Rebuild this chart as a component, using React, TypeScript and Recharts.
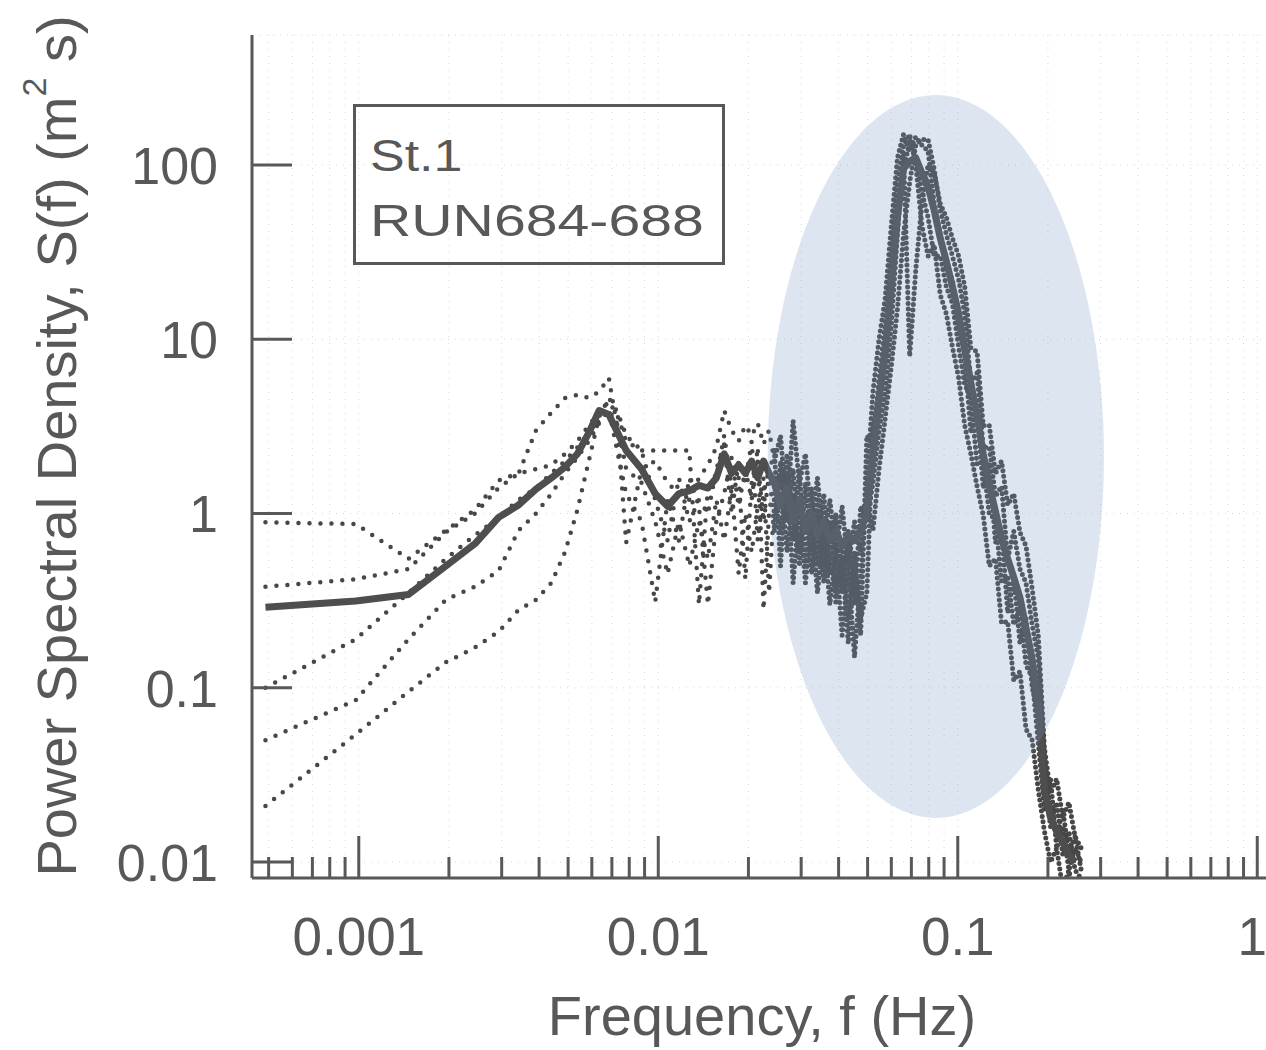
import { LineChart, Line, XAxis, YAxis, CartesianGrid, ReferenceArea } from 'recharts';

// frequency (Hz): spectral lines k/2048 at the low end, then a denser log grid
const freqs = [
  0.000488, 0.000977, 0.001465, 0.001953, 0.002441, 0.00293, 0.003418, 0.003906,
  0.004395, 0.004883, 0.005371, 0.00586, 0.006348, 0.006836, 0.007324, 0.007813,
  0.008789, 0.009766, 0.010742, 0.011719, 0.012695, 0.013672, 0.014648, 0.015625,
  0.016602, 0.017578, 0.018555, 0.019531, 0.020508, 0.021484, 0.022461, 0.023438, 0.024414,
  0.0256, 0.0269, 0.0282, 0.0296, 0.031, 0.0325, 0.034, 0.0357, 0.0374, 0.0392, 0.0411, 0.0431, 0.0452, 0.0474, 0.0497,
  0.0521, 0.0546, 0.0572, 0.06, 0.0629, 0.0659, 0.0691, 0.0724, 0.0759, 0.0796, 0.0834, 0.0874, 0.0916, 0.096, 0.1007,
  0.1055, 0.1106, 0.116, 0.1216, 0.1274, 0.1336, 0.14, 0.1468, 0.1538, 0.1613, 0.169, 0.1772, 0.1857, 0.1947, 0.2041, 0.2139, 0.2242, 0.235, 0.2464, 0.2583,
];

// ensemble mean (thick line)
const meanPsd = [
  0.29, 0.315, 0.343, 0.5, 0.67, 0.95, 1.12, 1.38, 1.6, 1.85, 2.2, 2.9, 3.9, 3.7, 2.9, 2.3,
  1.8, 1.3, 1.1, 1.3, 1.35, 1.45, 1.4, 1.6, 2.2, 1.7, 1.9, 1.7, 2.0, 1.6, 2.0, 1.7, 1.5,
  1.1, 1.4, 0.9, 1.2, 0.8, 1.0, 0.75, 0.9, 0.7, 0.8, 0.65, 0.75, 0.7, 0.8, 1.0,
  2.2, 4.5, 8.5, 20, 50, 95, 105, 110, 90, 75, 55, 38, 28, 20, 14,
  8.8, 5.6, 3.65, 2.2, 1.46, 1.03, 0.72, 0.55, 0.43, 0.33, 0.22, 0.146, 0.08, 0.026, 0.018, 0.015, 0.013, 0.011, 0.01, null,
];

// individual runs (dotted)
const run684 = [
  0.89, 0.87, 0.55, 0.8, 1.05, 1.55, 1.7, 3.0, 3.8, 4.6, 4.8, 4.6, 5.0, 6.0, 3.0, 0.68,
  1.8, 2.0, 1.5, 1.3, 1.2, 1.6, 1.9, 2.4, 3.9, 3.0, 2.6, 3.2, 2.8, 3.3, 2.5, 3.0, 2.0,
  2.8, 1.0, 3.4, 1.5, 2.2, 0.9, 1.6, 0.7, 1.2, 0.6, 1.1, 0.5, 0.9, 0.6, 1.5,
  5, 10, 17, 45, 110, 150, 120, 145, 130, 120, 60, 40, 26, 22, 12,
  8.0, 2.9, 4.0, 1.4, 1.95, 0.68, 0.81, 0.27, 0.43, 0.18, 0.25, 0.1, 0.072, 0.03, 0.016, 0.022, 0.011, 0.015, 0.009, 0.008,
];
const run685 = [
  0.38, 0.42, 0.48, 0.78, 1.0, 1.4, 1.7, 1.8, 1.9, 2.2, 2.6, 3.2, 3.8, 4.4, 3.6, 2.6,
  2.3, 2.3, 2.3, 2.3, 2.3, 0.3, 1.4, 1.6, 2.8, 1.4, 1.6, 0.42, 1.5, 2.0, 0.9, 1.7, 2.3,
  0.5, 2.2, 0.7, 1.8, 0.5, 1.4, 0.5, 1.3, 0.45, 1.0, 0.35, 0.8, 0.3, 1.1, 0.9,
  1.5, 3, 5, 12, 40, 120, 8, 25, 60, 100, 90, 60, 50, 38, 30,
  20, 8.9, 8.5, 3.2, 3.2, 1.7, 2.0, 1.12, 1.3, 0.78, 0.65, 0.37, 0.2, 0.045, 0.025, 0.03, 0.018, 0.022, 0.014, 0.012,
];
const run686 = [
  0.1, 0.19, 0.35, 0.55, 0.75, 0.95, 1.2, 1.4, 1.7, 2.0, 2.4, 2.9, 3.4, 4.0, 2.2, 1.3,
  0.9, 0.31, 1.2, 0.7, 1.6, 1.1, 0.3, 0.9, 1.3, 2.1, 1.1, 1.8, 1.2, 2.4, 0.28, 1.0, 1.6,
  1.6, 0.6, 1.3, 0.5, 1.5, 0.6, 1.2, 0.5, 0.9, 0.35, 0.7, 0.25, 0.6, 0.2, 2.8,
  2.5, 6, 12, 30, 80, 130, 150, 100, 45, 30, 35, 18, 14, 9, 6,
  3.2, 2.2, 1.43, 0.98, 0.5, 0.55, 0.235, 0.24, 0.11, 0.124, 0.058, 0.05, 0.026, 0.015, 0.01, 0.012, 0.007, 0.009, 0.006, null,
];
const run687 = [
  0.05, 0.085, 0.19, 0.32, 0.38, 0.47, 0.8, 1.0, 1.3, 1.7, 2.1, 2.6, 3.3, 3.9, 3.2, 1.8,
  1.5, 0.9, 0.45, 0.9, 0.5, 0.9, 0.55, 1.2, 0.7, 1.4, 0.45, 1.0, 0.6, 1.1, 1.6, 0.35, 1.2,
  0.8, 1.7, 0.4, 1.1, 0.4, 0.9, 0.35, 0.8, 0.3, 0.6, 0.2, 0.5, 0.15, 0.45, 1.2,
  0.8, 1.8, 3.5, 7, 15, 40, 80, 130, 140, 140, 95, 55, 40, 30, 22,
  13.9, 5.6, 6.4, 2.4, 2.4, 1.26, 1.43, 0.55, 0.79, 0.48, 0.4, 0.23, 0.147, 0.04, 0.02, 0.014, 0.02, 0.011, 0.014, 0.009,
];
const run688 = [
  0.021, 0.054, 0.095, 0.14, 0.17, 0.21, 0.28, 0.32, 0.4, 0.6, 1.05, 2.0, 3.6, 4.6, 3.8, 2.8,
  2.3, 1.2, 0.7, 1.6, 0.9, 1.2, 1.0, 1.8, 2.5, 1.0, 2.0, 1.5, 2.6, 0.7, 1.3, 1.8, 0.8,
  2.0, 0.9, 1.8, 0.6, 1.0, 0.45, 1.0, 0.4, 0.8, 0.3, 0.55, 0.18, 0.5, 0.25, 0.35,
  3, 5, 9, 20, 50, 90, 140, 110, 70, 50, 30, 30, 20, 16, 9,
  5.5, 4.6, 1.9, 2.0, 0.99, 0.93, 0.41, 0.44, 0.23, 0.29, 0.135, 0.115, 0.048, 0.02, 0.03, 0.012, 0.016, 0.009, 0.012, 0.01,
];

const xTicks = [
  0.0005, 0.0006, 0.0007, 0.0008, 0.0009,
  0.001, 0.002, 0.003, 0.004, 0.005, 0.006, 0.007, 0.008, 0.009,
  0.01, 0.02, 0.03, 0.04, 0.05, 0.06, 0.07, 0.08, 0.09,
  0.1, 0.2, 0.3, 0.4, 0.5, 0.6, 0.7, 0.8, 0.9, 1,
];
const yTicks = [0.01, 0.1, 1, 10, 100];

const xDomain = [0.00044, 1.12];
const yDomain = [0.0081, 557];

// shaded oval around the wind-wave peak (bounding box in data units)
const ovalF = [0.0232, 0.3076];
const ovalS = [0.0179, 252];

// above this frequency the spectra are densely sampled
const DENSE_FROM = 0.024414;

const CHART_W = 1300;
const CHART_H = 1050;
const TOP = 35;
const BOTTOM = 878;
const LEFT = 252;
const RIGHT = 1272;
const INK = '#585858';
const DATA = '#474747';
const FONT = '"Liberation Sans", Arial, Helvetica, sans-serif';

const isMajor = (v: number) => Math.abs(Math.log10(v) - Math.round(Math.log10(v))) < 1e-6;

const BottomTick = ({ x, payload }: any) => {
  const major = isMajor(payload.value);
  return (
    <g>
      <line x1={x} x2={x} y1={BOTTOM} y2={BOTTOM - (major ? 42 : 21)} stroke={INK} strokeWidth={3} />
      {major && (
        <text x={x} y={BOTTOM + 77} dx={payload.value === 1 ? -5 : 0} textAnchor="middle" fontSize={53} fill={INK} fontFamily={FONT}>
          {String(payload.value)}
        </text>
      )}
    </g>
  );
};

const TopTick = ({ x, payload }: any) => {
  const major = isMajor(payload.value);
  return <line x1={x} x2={x} y1={TOP} y2={TOP + (major ? 42 : 20)} stroke={INK} strokeWidth={3} />;
};

const LeftTick = ({ y, payload }: any) => (
  <g>
    <line x1={LEFT} x2={LEFT + 40} y1={y} y2={y} stroke={INK} strokeWidth={3} />
    <text x={LEFT - 34} y={y} dy="0.36em" textAnchor="end" fontSize={52} fill={INK} fontFamily={FONT}>
      {String(payload.value)}
    </text>
  </g>
);

const RightTick = ({ y }: any) => (
  <line x1={RIGHT} x2={RIGHT - 42} y1={y} y2={y} stroke={INK} strokeWidth={3} />
);

const Oval = (p: any) => (
  <ellipse
    cx={p.x + p.width / 2}
    cy={p.y + p.height / 2}
    rx={Math.abs(p.width) / 2}
    ry={Math.abs(p.height) / 2}
    fill="rgb(120,150,200)"
    fillOpacity={0.25}
  />
);

const runs = [
  { key: 'r684', values: run684 },
  { key: 'r685', values: run685 },
  { key: 'r686', values: run686 },
  { key: 'r687', values: run687 },
  { key: 'r688', values: run688 },
];

// each run is split into a sparse part and a densely sampled part (drawn with closer dots)
const rows = freqs.map((f, i) => {
  const row: Record<string, number | null> = { f, mean: meanPsd[i] };
  runs.forEach((r) => {
    row[r.key] = f <= DENSE_FROM ? r.values[i] : null;
    row[r.key + 'd'] = f >= DENSE_FROM ? r.values[i] : null;
  });
  return row;
});

export default function App() {
  return (
    <div style={{ position: 'absolute', left: 0, top: 0, width: 1266, height: 1050, overflow: 'hidden', background: '#fff', fontFamily: FONT }}>
      <LineChart width={CHART_W} height={CHART_H} data={rows} margin={{ top: TOP, right: CHART_W - RIGHT, bottom: 0, left: 0 }}>
        <CartesianGrid stroke="#d8d8d8" strokeDasharray="1 6" />
        <XAxis
          dataKey="f" type="number" scale="log" domain={xDomain} allowDataOverflow
          ticks={xTicks} interval={0} height={CHART_H - BOTTOM}
          tick={<BottomTick />} tickLine={false} tickSize={0}
          axisLine={{ stroke: INK, strokeWidth: 3 }}
        />
        <XAxis
          xAxisId="top" orientation="top" dataKey="f" type="number" scale="log" domain={xDomain} allowDataOverflow
          ticks={xTicks} interval={0} height={0}
          tick={<TopTick />} tickLine={false} tickSize={0}
          axisLine={{ stroke: INK, strokeWidth: 3 }}
        />
        <YAxis
          type="number" scale="log" domain={yDomain} allowDataOverflow
          ticks={yTicks} interval={0} width={LEFT}
          tick={<LeftTick />} tickLine={false} tickSize={0}
          axisLine={{ stroke: INK, strokeWidth: 3 }}
        />
        <YAxis
          yAxisId="right" orientation="right" type="number" scale="log" domain={yDomain} allowDataOverflow
          ticks={yTicks} interval={0} width={0}
          tick={<RightTick />} tickLine={false} tickSize={0}
          axisLine={{ stroke: INK, strokeWidth: 3 }}
        />
        {runs.map((r) => (
          <Line
            key={r.key}
            dataKey={r.key}
            type="linear"
            stroke={DATA}
            strokeWidth={4.5}
            strokeDasharray="0 11"
            strokeLinecap="round"
            dot={false}
            activeDot={false}
            isAnimationActive={false}
          />
        ))}
        {runs.map((r) => (
          <Line
            key={r.key + 'd'}
            dataKey={r.key + 'd'}
            type="linear"
            stroke={DATA}
            strokeWidth={5}
            strokeDasharray="0 5.5"
            strokeLinecap="round"
            dot={false}
            activeDot={false}
            isAnimationActive={false}
          />
        ))}
        <Line
          dataKey="mean"
          type="linear"
          stroke="#4e4e4e"
          strokeWidth={7}
          strokeLinejoin="round"
          dot={false}
          activeDot={false}
          isAnimationActive={false}
        />
        <ReferenceArea
          x1={ovalF[0]} x2={ovalF[1]} y1={ovalS[0]} y2={ovalS[1]}
          shape={Oval}
          zIndex={500}
        />
      </LineChart>

      <div style={{ position: 'absolute', left: 353, top: 104, width: 372, height: 161, border: `3px solid ${INK}`, boxSizing: 'border-box', color: INK }}>
        <div style={{ position: 'absolute', left: 14, top: 27, fontSize: 44, lineHeight: 1, transform: 'scaleX(1.18)', transformOrigin: 'left', whiteSpace: 'nowrap' }}>St.1</div>
        <div style={{ position: 'absolute', left: 14, top: 92, fontSize: 44, lineHeight: 1, transform: 'scaleX(1.3)', transformOrigin: 'left', whiteSpace: 'nowrap' }}>RUN684-688</div>
      </div>

      <div style={{ position: 'absolute', left: 57, top: 446, transform: 'translate(-50%, -50%) rotate(-90deg)', whiteSpace: 'nowrap', fontSize: 56, lineHeight: 1, color: INK }}>
        Power Spectral Density, S(f) (m<span style={{ fontSize: 34, position: 'relative', top: -30 }}>2</span> s)
      </div>

      <div style={{ position: 'absolute', left: (LEFT + RIGHT) / 2, top: 988, transform: 'translateX(-50%)', whiteSpace: 'nowrap', fontSize: 56, lineHeight: 1, color: INK }}>
        Frequency, f (Hz)
      </div>
    </div>
  );
}
